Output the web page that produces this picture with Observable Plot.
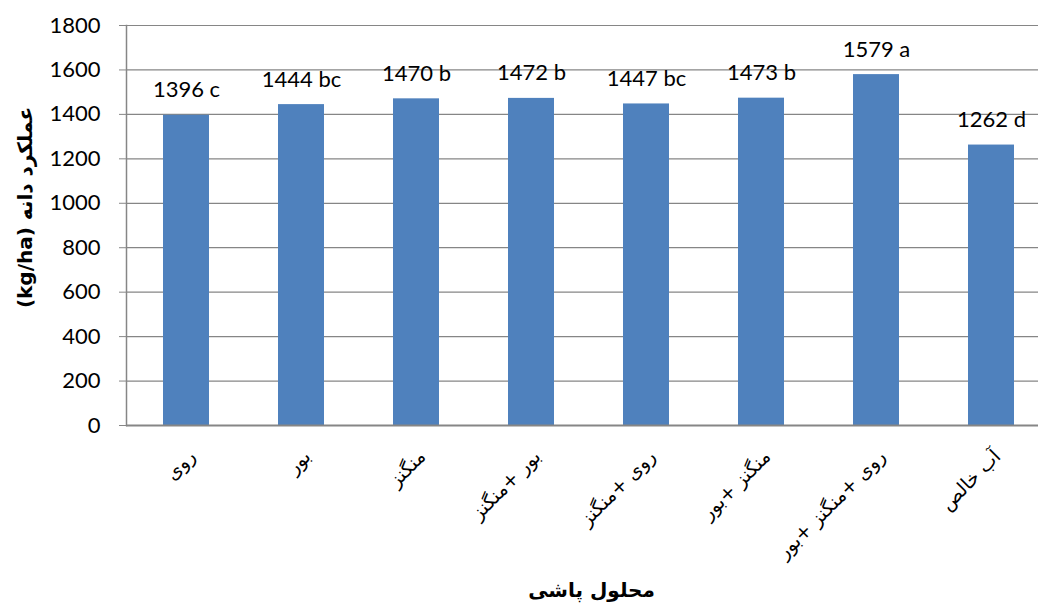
<!DOCTYPE html>
<html>
<head>
<meta charset="utf-8">
<script src="https://cdn.jsdelivr.net/npm/d3@7"></script>
<script src="https://cdn.jsdelivr.net/npm/@observablehq/plot@0.6"></script>
<style>
  body { margin: 0; background: #fff; }
</style>
</head>
<body>
<div id="chart"></div>
<script>
// Foliar spray treatments and mean grain yield (kg/ha) with Duncan groups
const treatments = ["روی", "بور", "منگنز", "بور +منگنز", "روی +منگنز", "منگنز +بور", "روی +منگنز +بور", "آب خالص"];
const yields = [1396, 1444, 1470, 1472, 1447, 1473, 1579, 1262];
const groups = ["c", "bc", "b", "b", "bc", "b", "a", "d"];
const yTicks = [0, 200, 400, 600, 800, 1000, 1200, 1400, 1600, 1800];
const yTitle = "(kg/ha) عملکرد دانه";
const xTitle = "محلول پاشی";

const data = treatments.map((t, i) => ({ treatment: t, value: yields[i], group: groups[i] }));

const gray = "#868686";
const numFont = "Lato, 'Open Sans', sans-serif";
const arabicFont = "'DejaVu Sans', sans-serif";

const chart = Plot.plot({
  width: 1038,
  height: 608,
  marginTop: 25,
  marginBottom: 183,
  marginLeft: 126,
  marginRight: 0,
  style: { fontFamily: numFont, fontSize: "22px", color: "#000", background: "#fff" },
  x: { domain: treatments, range: [126.2, 1050.6], paddingInner: 0.6, paddingOuter: 0.3, label: null },
  y: { domain: [0, 1800], label: null },
  marks: [
    Plot.gridY(yTicks, { stroke: gray, strokeOpacity: 1, strokeWidth: 1.2 }),
    Plot.barY(data, { x: "treatment", y: "value", fill: "#4F81BD" }),
    Plot.ruleY([0], { stroke: gray, strokeWidth: 2 }),
    Plot.frame({ anchor: "left", stroke: gray, strokeWidth: 1.5 }),
    Plot.axisY(yTicks, {
      tickSize: 7, tickPadding: 19, stroke: gray, tickFormat: d => String(d),
      fontSize: 22, fontFamily: numFont, label: null
    }),
    Plot.axisX({ tickSize: 0, tickRotate: -45, tickPadding: 28, dx: 6, fontSize: 19, fontFamily: arabicFont, label: null }),
    Plot.text(data, {
      x: "treatment", y: "value",
      text: d => `${d.value} ${d.group}`,
      lineAnchor: "bottom", dy: -18,
      fontSize: 22, fontFamily: numFont, fill: "#000"
    }),
    Plot.text([yTitle], {
      frameAnchor: "left", textAnchor: "middle", lineAnchor: "middle",
      dx: -101, dy: -18, rotate: -90,
      fontSize: 20, fontWeight: "bold", fontFamily: arabicFont, fill: "#000"
    }),
    Plot.text([xTitle], {
      frameAnchor: "bottom", textAnchor: "middle", lineAnchor: "middle",
      dx: 9, dy: 165,
      fontSize: 20, fontWeight: "bold", fontFamily: arabicFont, fill: "#000"
    })
  ]
});

document.getElementById("chart").appendChild(chart);
</script>
</body>
</html>
